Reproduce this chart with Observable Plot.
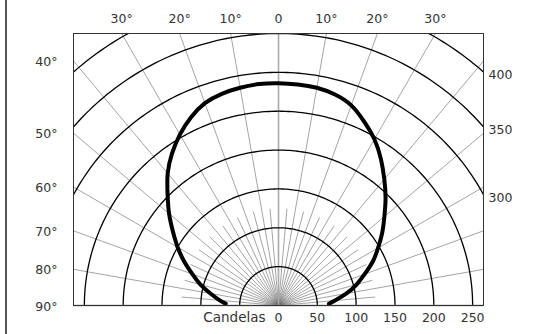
<!DOCTYPE html>
<html>
<head>
<meta charset="utf-8">
<script src="https://cdn.jsdelivr.net/npm/d3@7"></script>
<script src="https://cdn.jsdelivr.net/npm/@observablehq/plot@0.6"></script>
<style>
  html, body { margin: 0; padding: 0; background: #fff; }
  #wrap { position: relative; width: 539px; height: 334px; }
  #edge { position: absolute; left: 5px; top: 0; width: 1.5px; height: 334px; background: #555; }
</style>
</head>
<body>
<div id="wrap"><div id="edge"></div></div>
<script>
// Candela distribution (angle from nadir/vertical, degrees; negative = left)
const curveAngles = [-88,-85,-80,-75,-70,-65,-60,-55,-50,-45,-40,-35,-30,-25,-20,-15,-10,-5,0,5,10,15,20,25,30,35,40,45,50,55,60,65,70,75,80,85,88];
const curveCandela = [68,76,89,104,118,134,150,166,184,202,222,239,254,267,277,282,284.5,286,286,285.5,284.5,281,274,261,247,230,212,195,178,163,148,134,118,104,89,73,65];

// Grid
const circleRadii = [50,100,150,200,250,300,350,400];
const spokeAnglesMajor = [-90,-80,-70,-60,-50,-40,-30,-20,-10,10,20,30,40,50,60,70,80,90];
const spokeAnglesMinor = [-85,-75,-65,-55,-45,-35,-25,-15,-5,5,15,25,35,45,55,65,75,85];

// Labels
const topAngleLabels = [-30,-20,-10,0,10,20,30];
const leftAngleLabels = [40,50,60,70,80,90];
const rightCandelaLabels = [300,350,400];
const bottomCandelaLabels = [0,50,100,150,200,250];

const XMAX = 264, YMAX = 350;
const rad = d => d * Math.PI / 180;

const curveData = curveAngles.map((a, i) => ({x: curveCandela[i] * Math.sin(rad(a)), y: curveCandela[i] * Math.cos(rad(a))}));

const circleData = [];
for (const r of circleRadii) {
  for (let a = -90; a <= 90; a += 1) circleData.push({r, x: r * Math.sin(rad(a)), y: r * Math.cos(rad(a))});
}
const majorSpokes = spokeAnglesMajor.map(a => ({x2: 600 * Math.sin(rad(a)), y2: 600 * Math.cos(rad(a))}));
const minorSpokes = spokeAnglesMinor.map(a => ({x2: 125 * Math.sin(rad(a)), y2: 125 * Math.cos(rad(a))}));

const font = "DejaVu Sans, Liberation Sans, sans-serif";

const chart = Plot.plot({
  width: 539,
  height: 334,
  marginTop: 33,
  marginRight: 56,
  marginBottom: 29,
  marginLeft: 73,
  x: {domain: [-XMAX, XMAX], axis: null},
  y: {domain: [0, YMAX], axis: null},
  style: {fontFamily: font, fontSize: "12px", color: "#333", background: "transparent"},
  marks: [
    Plot.link(minorSpokes, {x1: 0, y1: 0, x2: "x2", y2: "y2", stroke: "#666", strokeWidth: 0.6, clip: true}),
    Plot.link(majorSpokes, {x1: 0, y1: 0, x2: "x2", y2: "y2", stroke: "#666", strokeWidth: 0.6, clip: true}),
    Plot.ruleX([0], {stroke: "#aaa", strokeWidth: 1.6, clip: true}),
    Plot.line(circleData, {x: "x", y: "y", z: "r", stroke: "#000", strokeWidth: 1.3, clip: true}),
    Plot.ruleY([0], {stroke: "#888", strokeWidth: 1.6}),
    Plot.frame({stroke: "#333", strokeWidth: 1}),
    Plot.line(curveData, {x: "x", y: "y", stroke: "#000", strokeWidth: 4, curve: "natural", strokeLinejoin: "round", clip: true}),
    // top angle labels
    Plot.text(topAngleLabels, {x: a => YMAX * Math.tan(rad(a)), y: YMAX, dy: -15, text: a => a === 0 ? "0" : Math.abs(a) + "°", fill: "#333", fontSize: 12.5}),
    // left angle labels
    Plot.text(leftAngleLabels, {x: -XMAX, y: a => a === 90 ? 0 : XMAX / Math.tan(rad(a)), dx: -16, dy: 1, textAnchor: "end", text: a => a + "°", fill: "#333", fontSize: 12.5}),
    // right candela labels
    Plot.text(rightCandelaLabels, {x: XMAX, y: r => Math.sqrt(r * r - XMAX * XMAX), dx: 5, dy: 3, textAnchor: "start", text: r => String(r), fill: "#333", fontSize: 12.5}),
    // bottom candela labels
    Plot.text(bottomCandelaLabels, {x: d => d, y: 0, dy: 12, text: d => String(d), fill: "#333", fontSize: 12.5}),
    Plot.text(["Candelas"], {x: 0, y: 0, dx: -13, dy: 12, textAnchor: "end", text: d => d, fill: "#333", fontSize: 13.5})
  ]
});
document.getElementById("wrap").appendChild(chart);
</script>
</body>
</html>
